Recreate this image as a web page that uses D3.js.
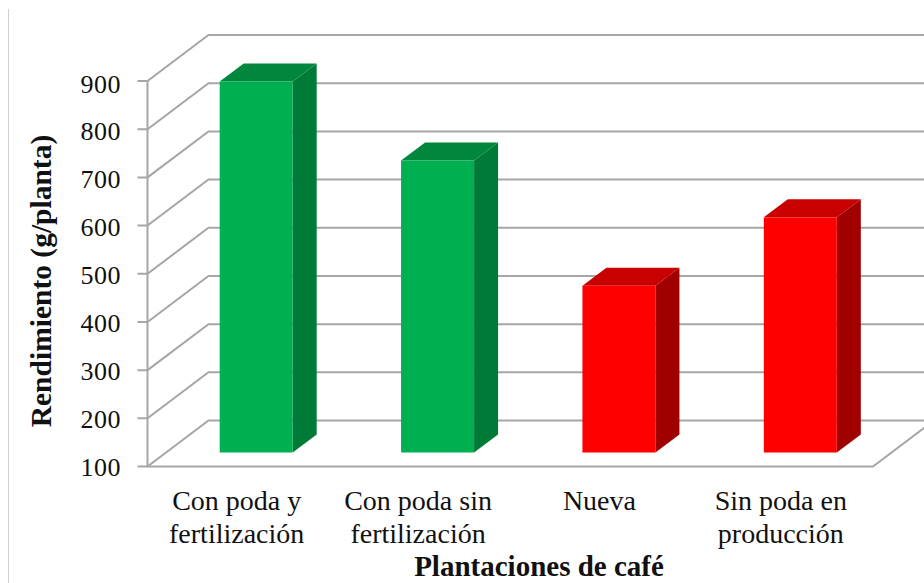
<!DOCTYPE html>
<html><head><meta charset="utf-8">
<script src="https://cdnjs.cloudflare.com/ajax/libs/d3/7.8.5/d3.min.js"></script>
<style>html,body{margin:0;padding:0;background:#fff}svg{display:block}
text{font-family:"Liberation Serif",serif;fill:#111}</style></head><body>
<script>
const categories = [["Con poda y","fertilización"],["Con poda sin","fertilización"],["Nueva"],["Sin poda en","producción"]];
const values = [870, 706, 446, 588];
const groupColors = ["green","green","red","red"];
const yTicks = [100,200,300,400,500,600,700,800,900];
const palette = {green:{front:"#00B050",top:"#00873D",side:"#007A37"},red:{front:"#FF0000",top:"#C80000",side:"#A00000"}};
const W=924,H=583;
const svg=d3.select("body").append("svg").attr("width",W).attr("height",H);
const x0=147.5,x1=873,yB=466.5,yT=81,backDx=61,backDy=46,barDepthX=24,barDepthY=18,barW=73;
const offX=(backDx-barDepthX)/2-0.5,offY=(backDy-barDepthY)/2;
const x=d3.scaleBand().domain(d3.range(categories.length)).range([x0,x1]);
const y=d3.scaleLinear().domain([100,900]).range([yB,yT]);
const yLabel=d3.scaleLinear().domain([100,900]).range([476,92.5]);
const grid="#A6A6A6";
svg.append("line").attr("x1",8.5).attr("x2",8.5).attr("y1",9).attr("y2",H).attr("stroke","#D0D0D0").attr("stroke-width",1);
const g=svg.append("g").attr("fill","none").attr("stroke",grid).attr("stroke-width",2);
yTicks.forEach(t=>{
  const p=y(t);
  g.append("path").attr("d",`M${x0-10},${p}H${x0}L${x0+backDx},${p-backDy}H${W}`);
});
g.append("path").attr("d",`M${x0},${yB}V${yT}`);
g.append("path").attr("d",`M${x0},${yB}H${x1}L${x1+backDx},${yB-backDy}`);
values.forEach((v,i)=>{
  const c=palette[groupColors[i]];
  const l=x(i)+x.bandwidth()/2-barW/2+offX, r=l+barW;
  const t=y(v)-offY, b=y(100)-offY;
  const dx=barDepthX,dy=barDepthY;
  svg.append("path").attr("fill",c.side).attr("d",`M${r},${t}L${r+dx},${t-dy}V${b-dy}L${r},${b}Z`);
  svg.append("path").attr("fill",c.top).attr("d",`M${l},${t}L${l+dx},${t-dy}H${r+dx}L${r},${t}Z`);
  svg.append("rect").attr("x",l).attr("y",t).attr("width",barW).attr("height",b-t).attr("fill",c.front);
});
yTicks.forEach(t=>{
  svg.append("text").attr("x",121).attr("y",yLabel(t)).attr("text-anchor","end").attr("font-size",26).attr("letter-spacing",0.5).text(t);
});
categories.forEach((lines,i)=>{
  lines.forEach((s,j)=>{
    svg.append("text").attr("x",x(i)+x.bandwidth()/2-1.5).attr("y",510+j*33)
      .attr("text-anchor","middle").attr("font-size",28).text(s);
  });
});
svg.append("text").attr("x",539).attr("y",576).attr("text-anchor","middle").attr("font-size",29).attr("font-weight","bold").text("Plantaciones de café");
svg.append("text").attr("transform","translate(51,281) rotate(-90)").attr("text-anchor","middle").attr("font-size",29.5).attr("font-weight","bold").text("Rendimiento (g/planta)");
</script></body></html>
